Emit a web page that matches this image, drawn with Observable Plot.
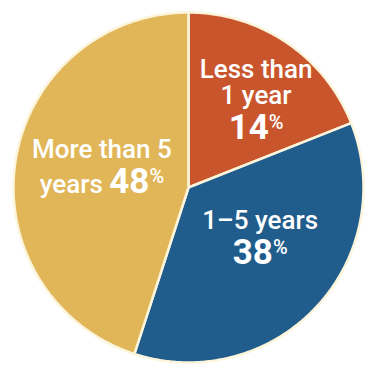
<!DOCTYPE html>
<html><head><meta charset="utf-8">
<script src="https://cdn.jsdelivr.net/npm/d3@7"></script>
<script src="https://cdn.jsdelivr.net/npm/@observablehq/plot@0.6"></script>
<style>body{margin:0;background:#fff}svg{display:block}</style>
</head><body><div id="chart"></div>
<script>
// ---- data ----
const categories = ["Less than 1 year", "1–5 years", "More than 5 years"];
const labelPercents = [14, 38, 48];          // printed percentages
const sliceShares = [19, 36, 45];            // angular shares as drawn in the picture
const labelLines = [["Less than", "1 year", "{p}"], ["1–5 years", "{p}"], ["More than 5", "years {p}"]];

// ---- style / layout ----
const colors = ["#c9552c", "#215d8c", "#e1b658"];
const W = 381, H = 384, R = 175, CX = 188, CY = 187;
const nudges = [[14, -8], [2, -15], [9, -5]];
const FONT = "Roboto, 'Noto Sans', sans-serif";

const pie = d3.pie().sort(null).value(d => d)(sliceShares);
const pts = [];
pie.forEach((p, i) => {
  const n = Math.max(2, Math.ceil((p.endAngle - p.startAngle) / 0.01));
  pts.push({cat: categories[i], x: 0, y: 0});
  for (let k = 0; k <= n; k++) {
    const a = p.startAngle + (p.endAngle - p.startAngle) * k / n;
    pts.push({cat: categories[i], x: Math.sin(a), y: Math.cos(a)});
  }
  pts.push({cat: categories[i], x: 0, y: 0});
});

const plot = Plot.plot({
  width: W, height: H, margin: 0,
  x: {domain: [-CX / R, (W - CX) / R], axis: null},
  y: {domain: [-(H - CY) / R, CY / R], axis: null},
  color: {domain: categories, range: colors},
  marks: [
    Plot.line(pts, {x: "x", y: "y", z: "cat", fill: "cat", stroke: "#fcf5dc", strokeWidth: 2.5, strokeLinejoin: "round", curve: "linear"})
  ]
});

const sx = plot.scale("x"), sy = plot.scale("y");
const svg = d3.select(plot);
const g = svg.append("g").attr("fill", "white").attr("font-family", FONT).attr("text-anchor", "middle");
pie.forEach((p, i) => {
  const mid = (p.startAngle + p.endAngle) / 2;
  const ax = sx.apply(0.55 * Math.sin(mid)) + nudges[i][0];
  const ay = sy.apply(0.55 * Math.cos(mid)) + nudges[i][1];
  const lines = labelLines[i];
  const offs = [0];
  for (let k = 1; k < lines.length; k++) offs.push(offs[k - 1] + (lines[k].includes("{p}") ? 35 : 26));
  const T = offs[offs.length - 1];
  const fb = ay - (T - 18) / 2;
  lines.forEach((ln, k) => {
    const t = g.append("text").attr("x", ax).attr("y", fb + offs[k]);
    const parts = ln.split("{p}");
    if (parts[0]) t.append("tspan").attr("font-size", 26).attr("font-weight", 500).text(parts[0].replace(/ $/, "\u00a0"));
    if (parts.length > 1) {
      t.append("tspan").attr("font-size", 35).attr("font-weight", 700).text(labelPercents[i]);
      t.append("tspan").attr("font-size", 20).attr("font-weight", 500).attr("dy", -10).text("%");
    }
  });
});
document.getElementById("chart").appendChild(plot);
</script>
</body></html>
